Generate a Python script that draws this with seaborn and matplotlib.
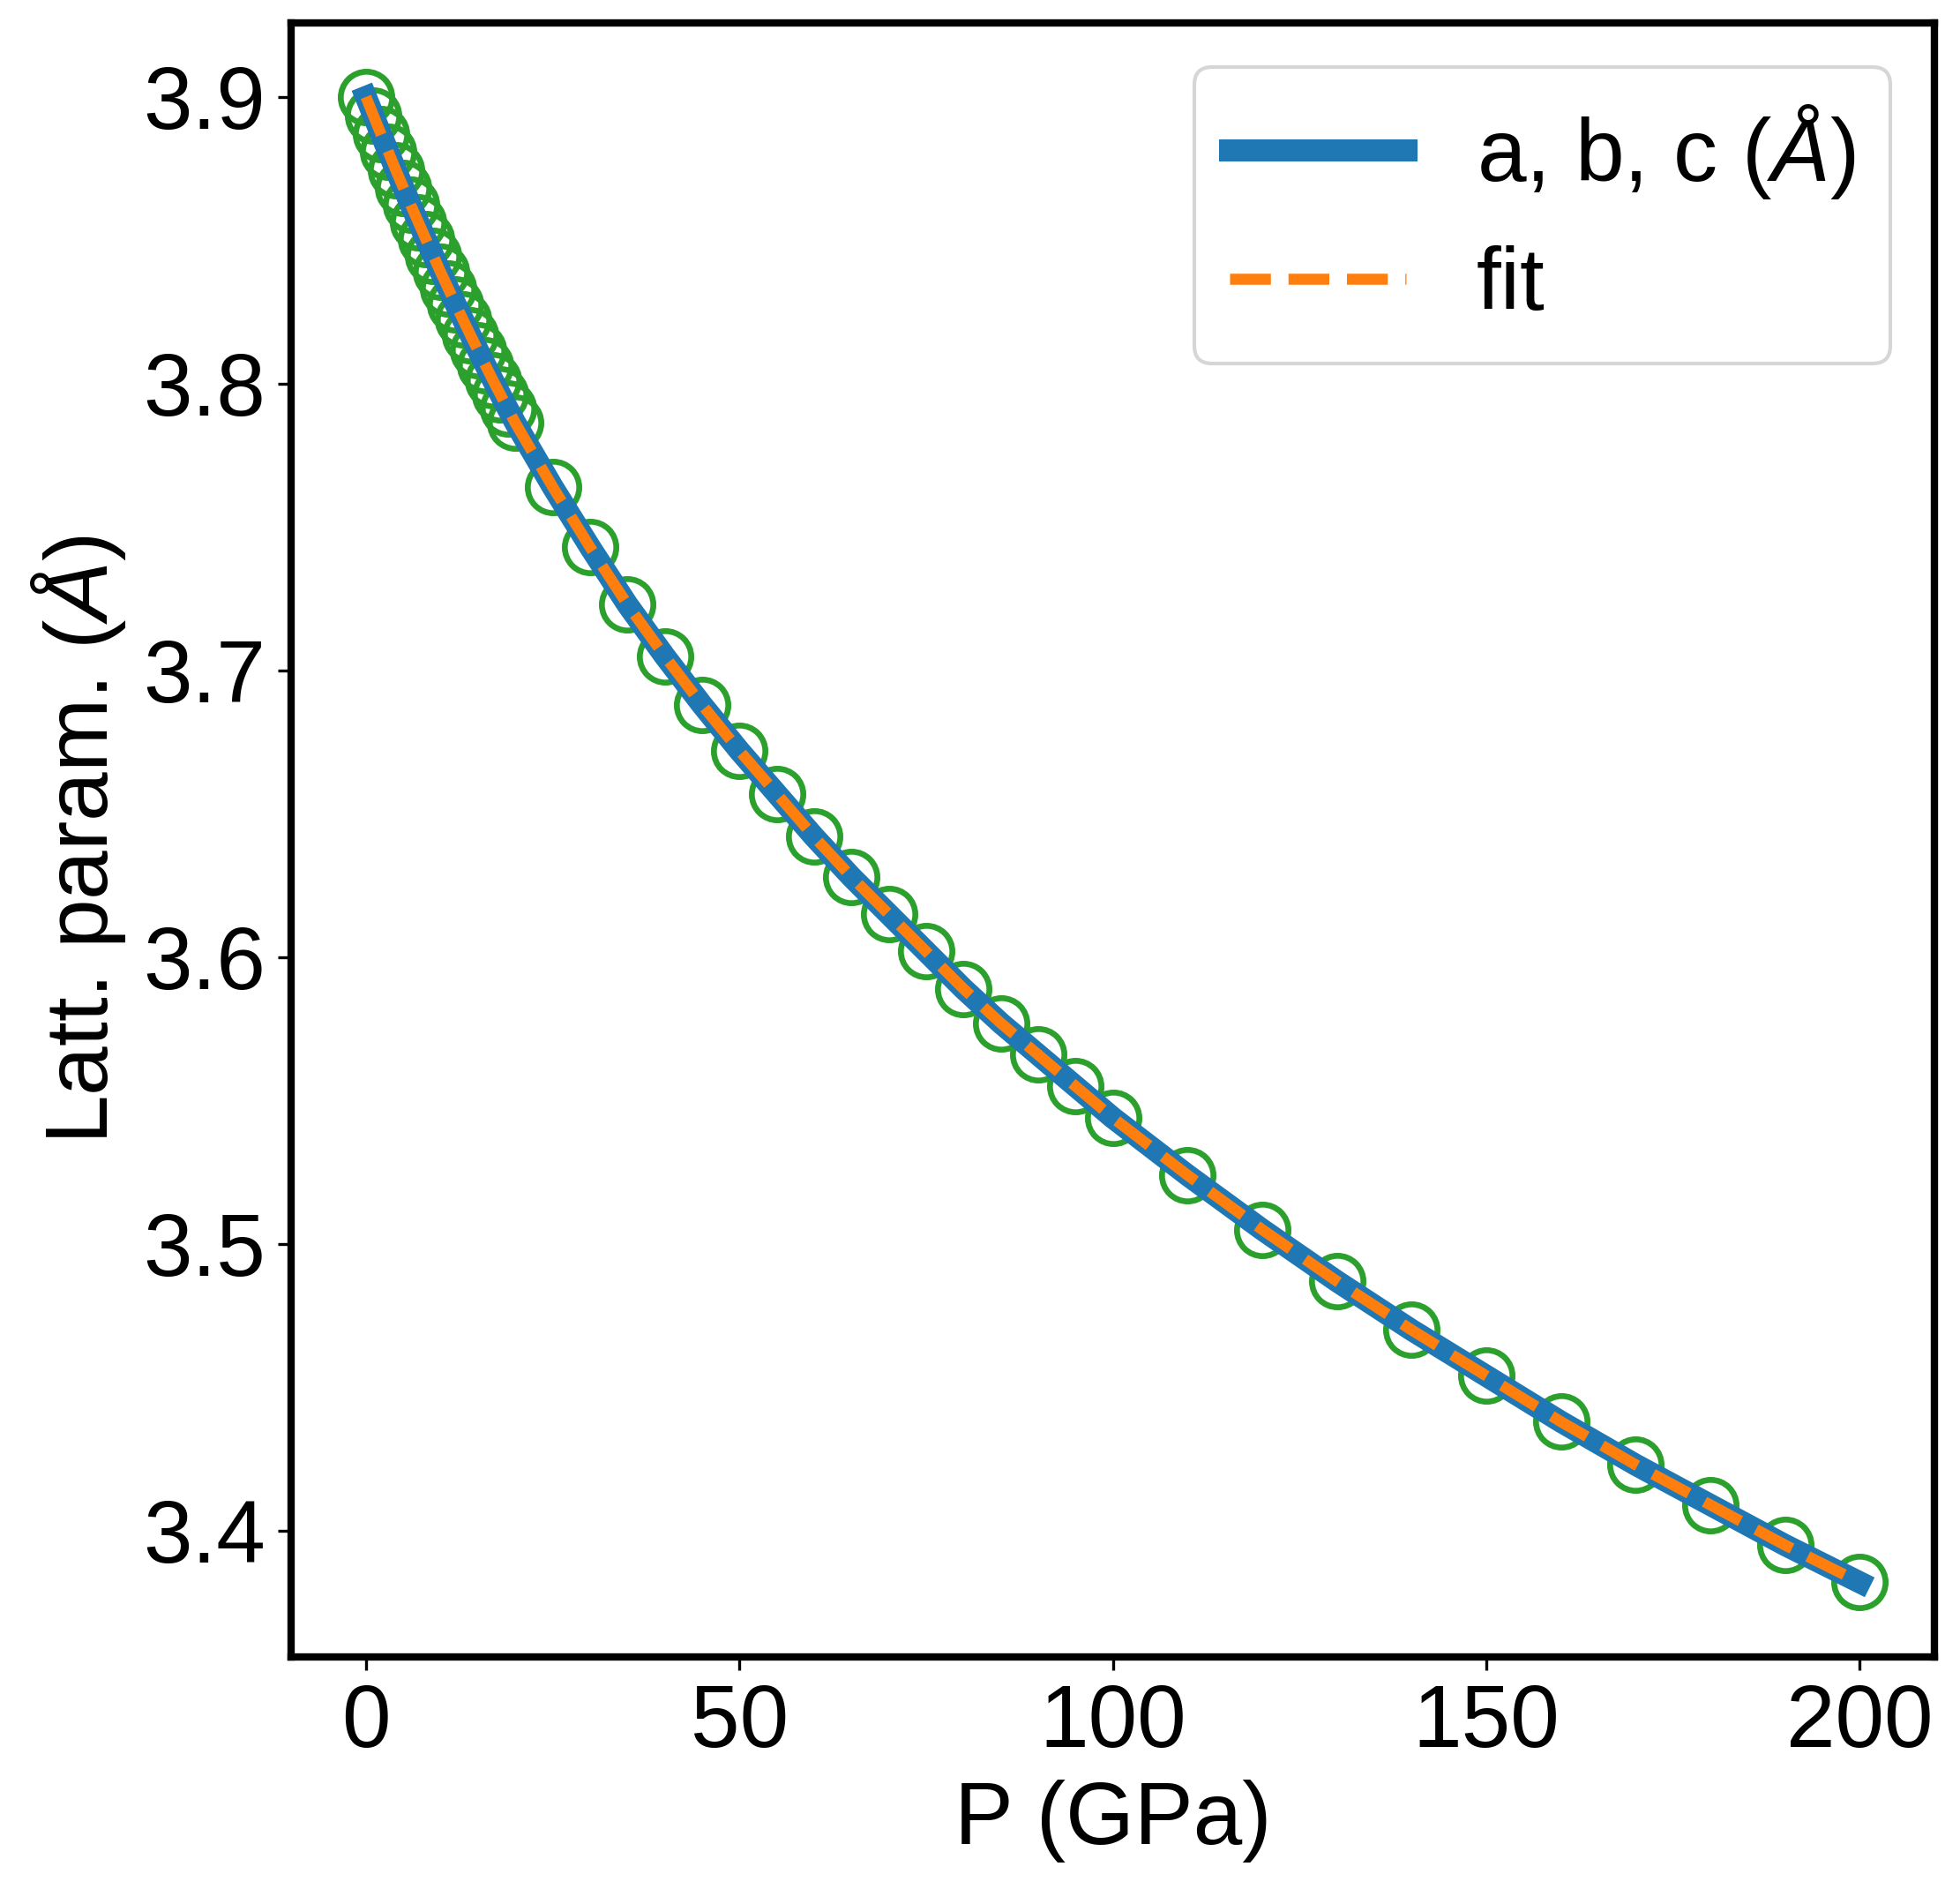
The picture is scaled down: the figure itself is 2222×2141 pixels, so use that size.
"""Lattice parameter vs pressure with EOS fit"""

import matplotlib
matplotlib.use("Agg")
import matplotlib.pyplot as plt
import seaborn as sns

# Pressure steps (GPa): 1 GPa up to 20, 5 GPa up to 100, 10 GPa up to 200
pressure = [0, 1, 2, 3, 4, 5, 6, 7, 8, 9, 10, 11, 12, 13, 14, 15, 16, 17, 18, 19, 20,
            25, 30, 35, 40, 45, 50, 55, 60, 65, 70, 75, 80, 85, 90, 95, 100,
            110, 120, 130, 140, 150, 160, 170, 180, 190, 200]

# Lattice parameter a = b = c (Angstrom)
latt = [3.9000, 3.8935, 3.8871, 3.8808, 3.8745, 3.8684, 3.8623, 3.8564, 3.8505, 3.8447,
        3.8389, 3.8333, 3.8277, 3.8223, 3.8169, 3.8116, 3.8064, 3.8012, 3.7962, 3.7912,
        3.7863,
        3.764, 3.743, 3.723, 3.705, 3.688, 3.672, 3.657, 3.642, 3.628, 3.615, 3.602,
        3.589, 3.577, 3.566, 3.555, 3.544,
        3.524, 3.505, 3.487, 3.470, 3.454, 3.438, 3.423, 3.409, 3.395, 3.382]

# fitted curve, read at the same pressures
latt_fit = [3.9000, 3.8935, 3.8871, 3.8808, 3.8745, 3.8684, 3.8623, 3.8564, 3.8505, 3.8447,
            3.8389, 3.8333, 3.8277, 3.8223, 3.8169, 3.8116, 3.8064, 3.8012, 3.7962, 3.7912,
            3.7863,
            3.764, 3.743, 3.723, 3.705, 3.688, 3.672, 3.657, 3.642, 3.628, 3.615, 3.602,
            3.589, 3.577, 3.566, 3.555, 3.544,
            3.524, 3.505, 3.487, 3.470, 3.454, 3.438, 3.423, 3.409, 3.395, 3.382]

plt.rcParams["font.family"] = ["Liberation Sans", "DejaVu Sans"]
plt.rcParams["font.size"] = 24
plt.rcParams["mathtext.fontset"] = "custom"
plt.rcParams["mathtext.rm"] = "Liberation Sans"
plt.rcParams["mathtext.it"] = "Liberation Sans:italic"
plt.rcParams["axes.linewidth"] = 2

fig, ax = plt.subplots(figsize=(2222 / 300, 2141 / 300), dpi=300)
fig.subplots_adjust(left=0.1486, right=0.987, top=0.988, bottom=0.123)

# open circles underneath the lines
sns.lineplot(x=pressure, y=latt, estimator=None, sort=False, ax=ax,
             linestyle="", marker="o", markersize=14, markerfacecolor="none",
             markeredgecolor="#2ca02c", markeredgewidth=1.6, zorder=1)
sns.lineplot(x=pressure, y=latt, estimator=None, sort=False, ax=ax,
             color="#1f77b4", linewidth=6, label=r"a, b, c ($\AA$)", zorder=2)
sns.lineplot(x=pressure, y=latt_fit, estimator=None, sort=False, ax=ax,
             color="#ff7f0e", linewidth=3, linestyle="--", label="fit", zorder=3)

ax.set_xticks([0, 50, 100, 150, 200])
ax.set_yticks([3.4, 3.5, 3.6, 3.7, 3.8, 3.9])
ax.set_xlabel("P (GPa)")
ax.set_ylabel(r"Latt. param. ($\AA$)")
ax.legend(loc="upper right", fontsize=24, frameon=True)

plt.savefig("out.png", dpi=300)
